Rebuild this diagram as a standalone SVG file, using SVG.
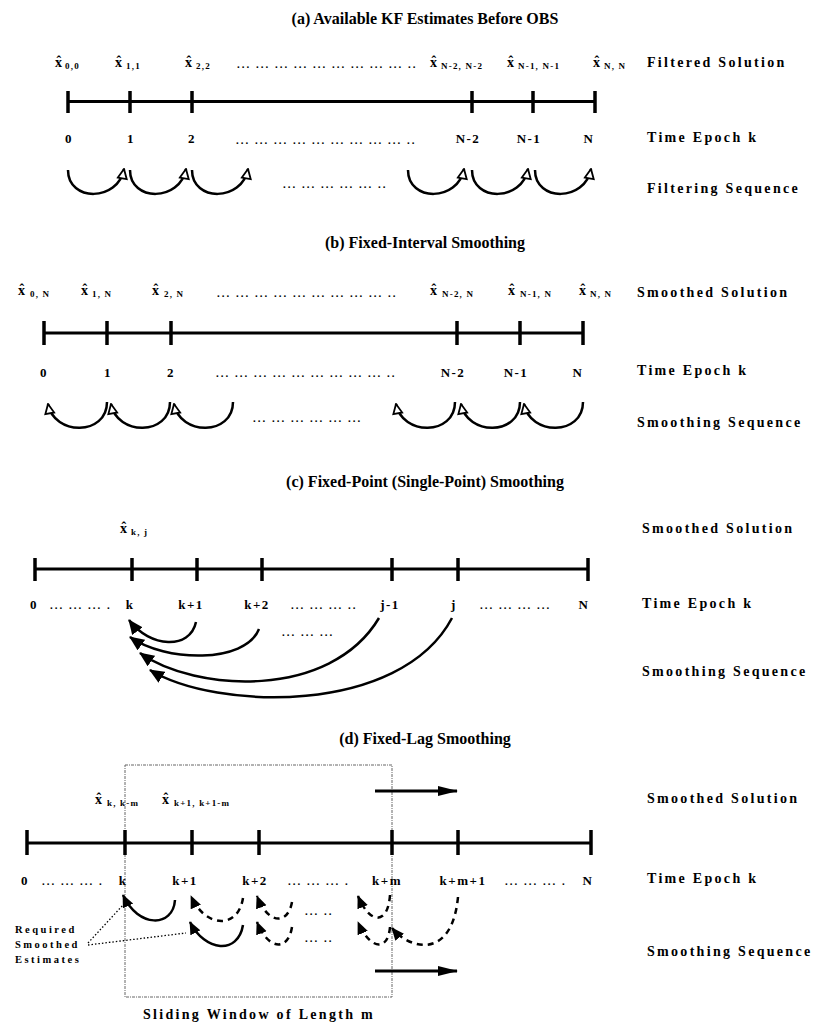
<svg xmlns="http://www.w3.org/2000/svg" width="825" height="1023" viewBox="0 0 825 1023">
<style>
text{font-family:"Liberation Serif","Times New Roman",serif;font-weight:bold;fill:#000}
.title{font-size:16px;text-anchor:middle}
.side{font-size:14px;letter-spacing:2.3px}
.ep{font-size:13px;letter-spacing:1.5px;text-anchor:middle}
.dots{font-size:11px;letter-spacing:2px}
.xh{font-size:14px}
.hat{font-size:14px}
.sb{font-size:9px;letter-spacing:1.2px}
.req{font-size:10.5px;letter-spacing:2.5px}
.axis{stroke:#000;stroke-width:3;fill:none}
.tick{stroke:#000;stroke-width:3.5}
.arc{fill:none;stroke:#000;stroke-width:2.5}
.dash{stroke-dasharray:6,5}
.lead{fill:none;stroke:#000;stroke-width:1.3;stroke-dasharray:1.5,2}
.win{fill:none;stroke:#666;stroke-width:1;stroke-dasharray:3,1,1,1}
</style>
<defs>
<marker id="open" viewBox="0 0 12 12" refX="11" refY="6" markerWidth="12" markerHeight="12" markerUnits="userSpaceOnUse" orient="auto">
<path d="M1.5,1.5 L11,6 L1.5,10.5 Z" fill="#fff" stroke="#000" stroke-width="1.8" stroke-dasharray="none"/>
</marker>
<marker id="fill" viewBox="0 0 14 12" refX="13" refY="6" markerWidth="15" markerHeight="13" markerUnits="userSpaceOnUse" orient="auto">
<path d="M0,0 L14,6 L0,12 Z" fill="#000" stroke="none"/>
</marker>
<marker id="fillS" viewBox="0 0 14 12" refX="13" refY="6" markerWidth="13" markerHeight="12" markerUnits="userSpaceOnUse" orient="auto">
<path d="M0,0 L14,6 L0,12 Z" fill="#000" stroke="none"/>
</marker>
<marker id="big" viewBox="0 0 20 10" refX="19" refY="5" markerWidth="20" markerHeight="10" markerUnits="userSpaceOnUse" orient="auto">
<path d="M0,0 L20,5 L0,10 Z" fill="#000" stroke="none"/>
</marker>
</defs>

<!-- ===== (a) ===== -->
<g id="section-a">
<text class="title" x="425" y="24">(a) Available KF Estimates Before OBS</text>
<g id="a-labels">
<text class="xh" x="55" y="67">x<tspan class="sb" dx="3" dy="2">0,0</tspan></text><text class="hat" x="56.5" y="66">ˆ</text>
<text class="xh" x="115" y="67">x<tspan class="sb" dx="4" dy="2">1,1</tspan></text><text class="hat" x="116.5" y="66">ˆ</text>
<text class="xh" x="185" y="67">x<tspan class="sb" dx="4" dy="2">2,2</tspan></text><text class="hat" x="186.5" y="66">ˆ</text>
<text class="dots" x="237" y="68">... ... ... ... ... ... ... ... ... ..</text>
<text class="xh" x="430" y="67">x<tspan class="sb" dx="4" dy="2">N-2, N-2</tspan></text><text class="hat" x="431.5" y="66">ˆ</text>
<text class="xh" x="507" y="67">x<tspan class="sb" dx="4" dy="2">N-1, N-1</tspan></text><text class="hat" x="508.5" y="66">ˆ</text>
<text class="xh" x="593" y="67">x<tspan class="sb" dx="4" dy="2">N, N</tspan></text><text class="hat" x="594.5" y="66">ˆ</text>
<text class="side" x="647" y="67">Filtered Solution</text>
</g>
<g id="a-axis">
<line class="axis" x1="68" y1="101.5" x2="595" y2="101.5"/>
<line class="tick" x1="68" y1="91" x2="68" y2="113"/>
<line class="tick" x1="130" y1="91" x2="130" y2="113"/>
<line class="tick" x1="192" y1="91" x2="192" y2="113"/>
<line class="tick" x1="472" y1="91" x2="472" y2="113"/>
<line class="tick" x1="533" y1="91" x2="533" y2="113"/>
<line class="tick" x1="595" y1="91" x2="595" y2="113"/>
</g>
<g id="a-epochs">
<text class="ep" x="69" y="143">0</text>
<text class="ep" x="131" y="143">1</text>
<text class="ep" x="192" y="143">2</text>
<text class="dots" x="236" y="144">... ... ... ... ... ... ... ... ... ..</text>
<text class="ep" x="468" y="143">N-2</text>
<text class="ep" x="529" y="143">N-1</text>
<text class="ep" x="589" y="143">N</text>
<text class="side" x="647" y="142">Time Epoch k</text>
</g>
<g id="a-connectors">
<path class="arc" marker-end="url(#open)" d="M68,170 C68,202 118,202 124,169"/>
<path class="arc" marker-end="url(#open)" d="M130,170 C130,202 180,202 186,169"/>
<path class="arc" marker-end="url(#open)" d="M192,170 C192,202 242,202 248,169"/>
<path class="arc" marker-end="url(#open)" d="M408,170 C408,202 458,202 464,169"/>
<path class="arc" marker-end="url(#open)" d="M472,170 C472,202 522,202 528,169"/>
<path class="arc" marker-end="url(#open)" d="M535,170 C535,202 585,202 591,169"/>
</g>
<text class="dots" x="283" y="188">... ... ... ... ... ..</text>
<text class="side" x="647" y="193">Filtering Sequence</text>
</g>

<!-- ===== (b) ===== -->
<g id="section-b">
<text class="title" x="425" y="248">(b) Fixed-Interval Smoothing</text>
<g id="b-labels">
<text class="xh" x="18" y="295">x<tspan class="sb" dx="5" dy="2">0, N</tspan></text><text class="hat" x="19.5" y="294">ˆ</text>
<text class="xh" x="81" y="295">x<tspan class="sb" dx="4" dy="2">1, N</tspan></text><text class="hat" x="82.5" y="294">ˆ</text>
<text class="xh" x="152" y="295">x<tspan class="sb" dx="5" dy="2">2, N</tspan></text><text class="hat" x="153.5" y="294">ˆ</text>
<text class="dots" x="217" y="297">... ... ... ... ... ... ... ... ... ..</text>
<text class="xh" x="430" y="295">x<tspan class="sb" dx="5" dy="2">N-2, N</tspan></text><text class="hat" x="431.5" y="294">ˆ</text>
<text class="xh" x="508" y="295">x<tspan class="sb" dx="5" dy="2">N-1, N</tspan></text><text class="hat" x="509.5" y="294">ˆ</text>
<text class="xh" x="579" y="295">x<tspan class="sb" dx="4" dy="2">N, N</tspan></text><text class="hat" x="580.5" y="294">ˆ</text>
<text class="side" x="637" y="297">Smoothed Solution</text>
</g>
<g id="b-axis">
<line class="axis" x1="44" y1="333" x2="583" y2="333"/>
<line class="tick" x1="44" y1="321" x2="44" y2="345"/>
<line class="tick" x1="107" y1="321" x2="107" y2="345"/>
<line class="tick" x1="171" y1="321" x2="171" y2="345"/>
<line class="tick" x1="457" y1="321" x2="457" y2="345"/>
<line class="tick" x1="520" y1="321" x2="520" y2="345"/>
<line class="tick" x1="583" y1="321" x2="583" y2="345"/>
</g>
<g id="b-epochs">
<text class="ep" x="44" y="377">0</text>
<text class="ep" x="108" y="377">1</text>
<text class="ep" x="171" y="377">2</text>
<text class="dots" x="216" y="377">... ... ... ... ... ... ... ... ... ..</text>
<text class="ep" x="453" y="377">N-2</text>
<text class="ep" x="516" y="377">N-1</text>
<text class="ep" x="578" y="377">N</text>
<text class="side" x="637" y="375">Time Epoch k</text>
</g>
<g id="b-connectors">
<path class="arc" marker-end="url(#open)" d="M107,402 C107,436 54,436 48,404"/>
<path class="arc" marker-end="url(#open)" d="M170,402 C170,436 117,436 111,404"/>
<path class="arc" marker-end="url(#open)" d="M233,402 C233,436 180,436 174,404"/>
<path class="arc" marker-end="url(#open)" d="M455,402 C455,436 402,436 396,404"/>
<path class="arc" marker-end="url(#open)" d="M520,402 C520,436 467,436 461,404"/>
<path class="arc" marker-end="url(#open)" d="M583,402 C583,436 530,436 524,404"/>
</g>
<text class="dots" x="253" y="422">... ... ... ... ... ...</text>
<text class="side" x="637" y="427">Smoothing Sequence</text>
</g>

<!-- ===== (c) ===== -->
<g id="section-c">
<text class="title" x="425" y="487">(c) Fixed-Point (Single-Point) Smoothing</text>
<g id="c-labels">
<text class="xh" x="120" y="533">x<tspan class="sb" dx="4" dy="2">k, j</tspan></text><text class="hat" x="121.5" y="532">ˆ</text>
<text class="side" x="642" y="533">Smoothed Solution</text>
</g>
<g id="c-axis">
<line class="axis" x1="35" y1="569" x2="588" y2="569"/>
<line class="tick" x1="35" y1="558" x2="35" y2="581"/>
<line class="tick" x1="132" y1="558" x2="132" y2="581"/>
<line class="tick" x1="197" y1="558" x2="197" y2="581"/>
<line class="tick" x1="262" y1="558" x2="262" y2="581"/>
<line class="tick" x1="392" y1="558" x2="392" y2="581"/>
<line class="tick" x1="458" y1="558" x2="458" y2="581"/>
<line class="tick" x1="588" y1="558" x2="588" y2="581"/>
</g>
<g id="c-epochs">
<text class="ep" x="34" y="609">0</text>
<text class="dots" x="50" y="609">... ... ... .</text>
<text class="ep" x="130" y="609">k</text>
<text class="ep" x="191" y="609">k+1</text>
<text class="ep" x="257" y="609">k+2</text>
<text class="dots" x="291" y="609">... ... ... ..</text>
<text class="ep" x="390" y="609">j-1</text>
<text class="ep" x="454" y="609">j</text>
<text class="dots" x="480" y="609">... ... ... ...</text>
<text class="ep" x="584" y="609">N</text>
<text class="side" x="642" y="608">Time Epoch k</text>
</g>
<g id="c-connectors">
<path class="arc" marker-end="url(#fill)" d="M196,622 C190,650 150,648 129,620"/>
<path class="arc" marker-end="url(#fill)" d="M259,629 C245,664 165,662 130,637"/>
<path class="arc" marker-end="url(#fill)" d="M379,618 C330,700 195,692 140,653"/>
<path class="arc" marker-end="url(#fill)" d="M452,618 C400,716 215,710 150,670"/>
</g>
<text class="dots" x="282" y="636">... ... ...</text>
<text class="side" x="642" y="676">Smoothing Sequence</text>
</g>

<!-- ===== (d) ===== -->
<g id="section-d">
<text class="title" x="425" y="744">(d) Fixed-Lag Smoothing</text>
<rect id="sliding-window" class="win" x="125" y="765" width="267" height="232"/>
<g id="d-labels">
<text class="xh" x="95" y="804">x<tspan class="sb" dx="5" dy="2">k, k-m</tspan></text><text class="hat" x="96.5" y="803">ˆ</text>
<text class="xh" x="162" y="804">x<tspan class="sb" dx="5" dy="2">k+1, k+1-m</tspan></text><text class="hat" x="163.5" y="803">ˆ</text>
<text class="side" x="647" y="803">Smoothed Solution</text>
</g>
<g id="d-axis">
<line class="axis" x1="27" y1="843" x2="591" y2="843"/>
<line class="tick" x1="27" y1="830" x2="27" y2="855"/>
<line class="tick" x1="125" y1="830" x2="125" y2="855"/>
<line class="tick" x1="192" y1="830" x2="192" y2="855"/>
<line class="tick" x1="259" y1="830" x2="259" y2="855"/>
<line class="tick" x1="392" y1="830" x2="392" y2="855"/>
<line class="tick" x1="458" y1="830" x2="458" y2="855"/>
<line class="tick" x1="591" y1="830" x2="591" y2="855"/>
</g>
<g id="d-epochs">
<text class="ep" x="25" y="885">0</text>
<text class="dots" x="42" y="885">... ... ... .</text>
<text class="ep" x="123" y="885">k</text>
<text class="ep" x="185" y="885">k+1</text>
<text class="ep" x="255" y="885">k+2</text>
<text class="dots" x="288" y="885">... ... ... .</text>
<text class="ep" x="387" y="885">k+m</text>
<text class="ep" x="463" y="885">k+m+1</text>
<text class="dots" x="505" y="885">... ... ... .</text>
<text class="ep" x="588" y="885">N</text>
<text class="side" x="647" y="883">Time Epoch k</text>
</g>
<g id="d-required">
<text class="req" x="15" y="933">Required</text>
<text class="req" x="15" y="948">Smoothed</text>
<text class="req" x="15" y="963">Estimates</text>
</g>
<g id="d-connectors">
<line class="arc" marker-end="url(#big)" x1="375" y1="791" x2="457" y2="791" style="stroke-width:3"/>
<line class="arc" marker-end="url(#big)" x1="375" y1="971" x2="457" y2="971" style="stroke-width:3"/>
<path class="arc" marker-end="url(#fillS)" d="M175,900 C173,928 138,928 123,895"/>
<path class="arc dash" marker-end="url(#fillS)" d="M243,898 C238,930 205,928 191,896"/>
<path class="arc dash" marker-end="url(#fillS)" d="M292,902 C288,925 268,925 257,896"/>
<path class="arc dash" marker-end="url(#fillS)" d="M390,895 C388,925 370,925 358,896"/>
<path class="arc" marker-end="url(#fillS)" d="M243,925 C238,955 205,952 190,922"/>
<path class="arc dash" marker-end="url(#fillS)" d="M292,927 C288,952 268,950 257,922"/>
<path class="arc dash" marker-end="url(#fillS)" d="M390,927 C388,952 370,950 358,922"/>
<path class="arc dash" marker-end="url(#fillS)" d="M458,897 C452,960 410,950 392,928"/>
<path class="lead" d="M88,943 L123,905"/>
<path class="lead" d="M88,945 L186,933"/>
</g>
<text class="dots" x="305" y="915">... ..</text>
<text class="dots" x="305" y="942">... ..</text>
<text class="side" x="647" y="956">Smoothing Sequence</text>
<text class="side" x="143" y="1019">Sliding Window of Length m</text>
</g>
</svg>
